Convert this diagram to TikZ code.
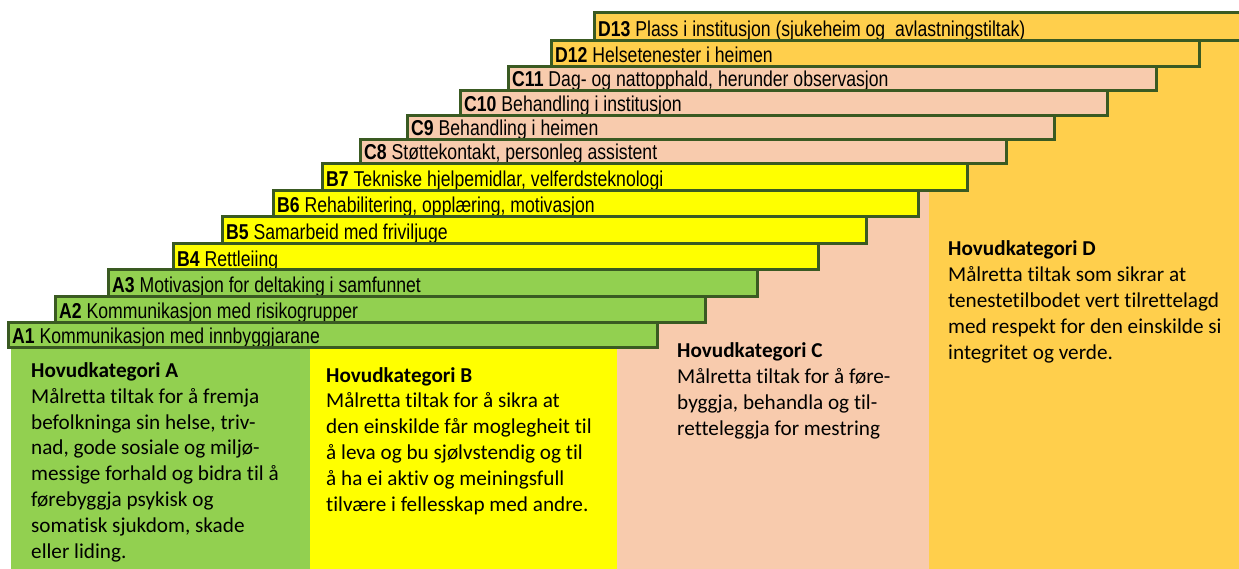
\documentclass[tikz,border=0pt]{standalone}
\usepackage{fontspec}
\setmainfont{Carlito}[Ligatures=NoCommon]
\newfontfamily\barfont[FakeStretch=0.82]{Liberation Sans}
\definecolor{cA}{HTML}{92D050}
\definecolor{cB}{HTML}{FFFF00}
\definecolor{cC}{HTML}{F8CBAD}
\definecolor{cD}{HTML}{FFCF4C}
\definecolor{barline}{HTML}{3A5A22}
\tikzset{
  barbox/.style={draw=barline, line width=3pt},
  bartext/.style={anchor=base west, inner sep=0pt, font=\barfont\fontsize{21.5}{21.5}\selectfont},
  bodytext/.style={anchor=base west, align=left, inner sep=0pt, font=\fontsize{21.2}{25.8}\selectfont},
}
\newcommand\stepbar[8]{%
  \begin{scope}
    \clip (#2,#3) rectangle (#4,#5);
    \fill[#6] (#2,#3) rectangle (#4,#5);
    \node[bartext] (#1) at (#2+4,#5-4) {\textbf{#7} #8};
  \end{scope}
  \draw[barbox] (#2,#3) rectangle (#4,#5);
}
\begin{document}
\begin{tikzpicture}[x=1pt,y=-1pt]
\useasboundingbox (0,0) rectangle (1239,569);
% column backgrounds
\fill[cA] (11,347) rectangle (310,569);
\fill[cB] (310,347) rectangle (617,569);
\fill[cC] (617,191) rectangle (929,569);
\fill[cD] (929,41) rectangle (1239,569);
% bars, top to bottom
\stepbar{d13}{594}{13}{1245}{41}{cD}{D13}{Plass i institusjon (sjukeheim og~ avlastningstiltak)}
\stepbar{d12}{551}{41}{1199}{67}{cD}{D12}{Helsetenester i heimen}
\stepbar{c11}{508}{67}{1156}{91}{cC}{C11}{Dag- og nattopphald, herunder observasjon}
\stepbar{c10}{460}{91}{1107}{116}{cC}{C10}{Behandling i institusjon}
\stepbar{c9}{407}{116}{1054}{140}{cC}{C9}{Behandling i heimen}
\stepbar{c8}{360}{140}{1006}{164}{cC}{C8}{Støttekontakt, personleg assistent}
\stepbar{b7}{322}{164}{967}{191}{cB}{B7}{Tekniske hjelpemidlar, velferdsteknologi}
\stepbar{b6}{273}{191}{918}{217}{cB}{B6}{Rehabilitering, opplæring, motivasjon}
\stepbar{b5}{222}{217}{866}{244}{cB}{B5}{Samarbeid med friviljuge}
\stepbar{b4}{173}{244}{818}{270}{cB}{B4}{Rettleiing}
\stepbar{a3}{108}{270}{757}{296}{cA}{A3}{Motivasjon for deltaking i samfunnet}
\stepbar{a2}{55}{296}{705}{322}{cA}{A2}{Kommunikasjon med risikogrupper}
\stepbar{a1}{8}{322}{657}{347}{cA}{A1}{Kommunikasjon med innbyggjarane}
% category texts (anchored at the baseline of their last line)
\node[bodytext] (txtA) at (31,558) {\textbf{Hovudkategori A}\\Målretta tiltak for å fremja\\befolkninga sin helse, triv-\\nad, gode sosiale og miljø-\\messige forhald og bidra til å\\førebyggja psykisk og\\somatisk sjukdom, skade\\eller liding.};
\node[bodytext] (txtB) at (326,511) {\textbf{Hovudkategori B}\\Målretta tiltak for å sikra at\\den einskilde får moglegheit til\\å leva og bu sjølvstendig og til\\å ha ei aktiv og meiningsfull\\tilvære i fellesskap med andre.};
\node[bodytext] (txtC) at (677,435) {\textbf{Hovudkategori C}\\Målretta tiltak for å føre-\\byggja, behandla og til-\\retteleggja for mestring};
\node[bodytext] (txtD) at (948,359) {\textbf{Hovudkategori D}\\Målretta tiltak som sikrar at\\tenestetilbodet vert tilrettelagd\\med respekt for den einskilde si\\integritet og verde.};
\end{tikzpicture}
\end{document}
